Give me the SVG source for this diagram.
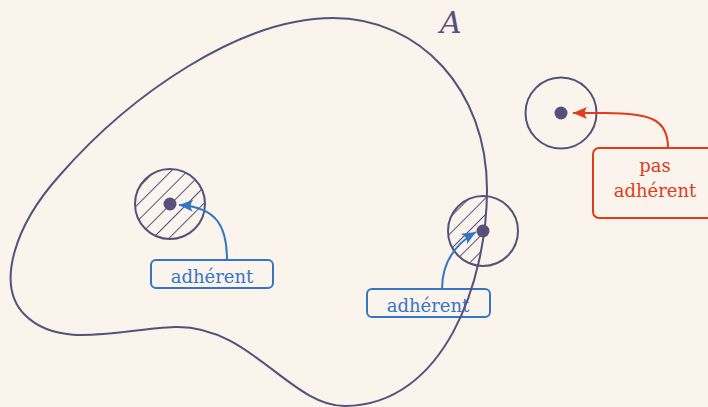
<svg xmlns="http://www.w3.org/2000/svg" width="708" height="407" viewBox="0 0 708 407">
<style>
.set{fill:none;stroke:#57507a;stroke-width:2}
.nb{fill:none;stroke:#57507a;stroke-width:2}
.dot{fill:#57507a}
.hatch{stroke:#57507a;stroke-width:2}
.bbox{fill:none;stroke:#3575c6;stroke-width:2}
.rbox{fill:none;stroke:#e03c1c;stroke-width:2}
.blue{fill:none;stroke:#3575c6;stroke-width:2}
.red{fill:none;stroke:#e03c1c;stroke-width:2}
.tb{font-family:"DejaVu Serif","Liberation Serif",serif;font-size:18px;fill:#3575c6;text-anchor:middle}
.tr{font-family:"DejaVu Serif","Liberation Serif",serif;font-size:18px;fill:#e03c1c;text-anchor:middle}
.ta{font-family:"DejaVu Serif","Liberation Serif",serif;font-style:italic;font-size:30px;fill:#57507a}
</style>
<defs>
<pattern id="hp" width="11.5" height="11.5" patternUnits="userSpaceOnUse" patternTransform="rotate(45)">
<line x1="0" y1="0" x2="0" y2="11.5" class="hatch"/>
</pattern>
<path id="Apath" d="M 333,18 C 420,18 487,90 487,190 C 487,280 445,405 345,406 C 290,406 250,325 175,327 C 120,329 60,350 25,315 C -5,285 15,225 60,175 C 130,95 240,18 333,18 Z"/>
<clipPath id="clipA"><use href="#Apath"/></clipPath>
<marker id="ab" viewBox="-15 -7 16 14" refX="0" refY="0" markerWidth="16" markerHeight="14" markerUnits="userSpaceOnUse" orient="auto">
<path d="M0,0 L-14,-6 Q-9.5,0 -14,6 Z" fill="#3575c6"/>
</marker>
<marker id="ar" viewBox="-15 -7 16 14" refX="0" refY="0" markerWidth="16" markerHeight="14" markerUnits="userSpaceOnUse" orient="auto">
<path d="M0,0 L-14,-6 Q-9.5,0 -14,6 Z" fill="#e03c1c"/>
</marker>
</defs>
<rect width="708" height="407" fill="#faf4ec"/>
<g id="setA">
<text x="440" y="33" class="ta">A</text>
</g>
<g id="nb1">
<circle cx="170" cy="204" r="35" fill="url(#hp)"/>
<circle cx="170" cy="204" r="35" class="nb"/>
<circle cx="170" cy="204" r="6.5" class="dot"/>
</g>
<g id="nb2">
<g clip-path="url(#clipA)"><circle cx="483" cy="231" r="35" fill="url(#hp)"/></g>
<circle cx="483" cy="231" r="35" class="nb"/>
<circle cx="483" cy="231" r="6.5" class="dot"/>
</g>
<g id="nb3">
<circle cx="561" cy="113" r="35.5" class="nb"/>
<circle cx="561" cy="113" r="6.5" class="dot"/>
</g>
<g id="label1">
<rect x="151" y="260" width="122" height="28" rx="5" class="bbox"/>
<text x="212" y="283" class="tb">adhérent</text>
</g>
<g id="label2">
<rect x="367" y="289" width="123" height="28" rx="5" class="bbox"/>
<text x="428" y="312" class="tb">adhérent</text>
</g>
<g id="label3">
<rect x="593" y="148" width="124" height="70" rx="6" class="rbox"/>
<text x="655" y="172" class="tr">pas</text>
<text x="655" y="197" class="tr">adhérent</text>
</g>
<g id="connectors">
<path d="M 227,260 C 227,228 218,207 179,205" class="blue" marker-end="url(#ab)"/>
<path d="M 442,289 C 442,266 452,246 476,232" class="blue" marker-end="url(#ab)"/>
<path d="M 668,148 C 668,120 652,113 605,113 L 573,113" class="red" marker-end="url(#ar)"/>
</g>
<g id="setA-outline">
<use href="#Apath" class="set"/>
</g>
</svg>
